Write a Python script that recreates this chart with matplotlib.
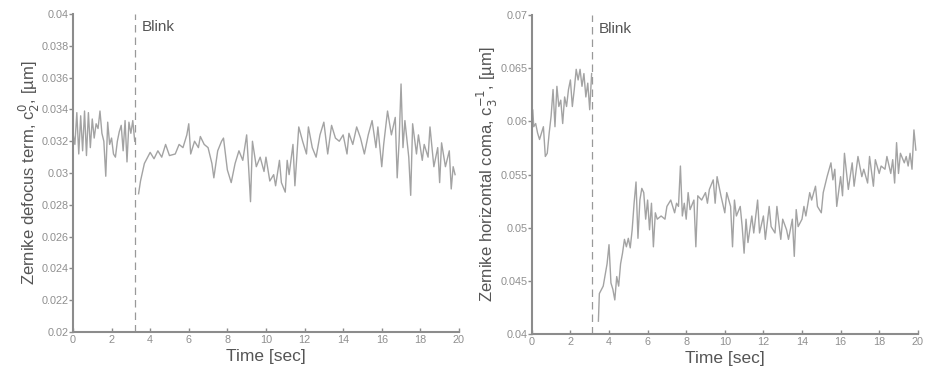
"""
Zernike defocus and horizontal coma over time, around a blink
"""

import matplotlib
matplotlib.use('Agg')
import matplotlib.pyplot as plt

plt.rcParams['font.family'] = ['Liberation Sans', 'DejaVu Sans']

# defocus term, before and after blink
t_def_pre = [0.0, 0.1, 0.2, 0.3, 0.4, 0.5, 0.6, 0.7, 0.8, 0.9, 1.0, 1.1,
             1.2, 1.3, 1.4, 1.5, 1.6, 1.7, 1.8, 1.9, 2.0, 2.1, 2.2, 2.3,
             2.4, 2.5, 2.6, 2.7, 2.8, 2.9, 3.0, 3.1, 3.2]
c_def_pre = [0.0325, 0.0318, 0.0338, 0.0312, 0.0336, 0.0314, 0.0339, 0.0311,
             0.0338, 0.0316, 0.0334, 0.0322, 0.0331, 0.0328, 0.0339, 0.0325,
             0.0320, 0.0298, 0.0332, 0.0318, 0.0322, 0.0312, 0.0310, 0.0320,
             0.0326, 0.0330, 0.0314, 0.0333, 0.0307, 0.0332, 0.0325, 0.0333,
             0.0320]
t_def_post = [3.4, 3.5, 3.7, 4.0, 4.2, 4.4, 4.6, 4.8, 5.0, 5.3, 5.5, 5.7,
              5.9, 6.0, 6.1, 6.3, 6.5, 6.6, 6.8, 7.0, 7.2, 7.3, 7.5, 7.7,
              7.8, 8.0, 8.2, 8.4, 8.6, 8.8, 9.0, 9.1, 9.2, 9.3, 9.5, 9.7,
              9.9, 10.0, 10.2, 10.4, 10.5, 10.7, 10.8, 11.0, 11.1, 11.2,
              11.4, 11.5, 11.7, 11.9, 12.1, 12.2, 12.4, 12.6, 12.8, 13.0,
              13.2, 13.4, 13.6, 13.8, 14.0, 14.2, 14.3, 14.5, 14.7, 14.9,
              15.1, 15.3, 15.5, 15.7, 15.8, 16.0, 16.1, 16.3, 16.5, 16.7,
              16.8, 16.9, 17.0, 17.1, 17.2, 17.4, 17.5, 17.6, 17.8, 17.9,
              18.1, 18.2, 18.4, 18.5, 18.7, 18.9, 19.0, 19.1, 19.3, 19.5,
              19.6, 19.7, 19.8]
c_def_post = [0.0287, 0.0295, 0.0306, 0.0313, 0.0309, 0.0314, 0.0310, 0.0318,
              0.0311, 0.0312, 0.0318, 0.0316, 0.0324, 0.0331, 0.0312, 0.0320,
              0.0316, 0.0323, 0.0318, 0.0316, 0.0306, 0.0297, 0.0314, 0.0320,
              0.0322, 0.0302, 0.0294, 0.0306, 0.0314, 0.0308, 0.0324, 0.0304,
              0.0282, 0.0320, 0.0304, 0.0310, 0.0301, 0.0310, 0.0295, 0.0299,
              0.0292, 0.0308, 0.0294, 0.0288, 0.0308, 0.0299, 0.0318, 0.0292,
              0.0329, 0.0320, 0.0312, 0.0329, 0.0316, 0.0310, 0.0324, 0.0332,
              0.0312, 0.0330, 0.0322, 0.0320, 0.0324, 0.0312, 0.0325, 0.0318,
              0.0329, 0.0322, 0.0312, 0.0324, 0.0333, 0.0316, 0.0329, 0.0304,
              0.0318, 0.0339, 0.0324, 0.0335, 0.0297, 0.0320, 0.0356, 0.0316,
              0.0333, 0.0310, 0.0286, 0.0331, 0.0312, 0.0324, 0.0308, 0.0318,
              0.0310, 0.0329, 0.0304, 0.0316, 0.0294, 0.0319, 0.0304, 0.0314,
              0.0290, 0.0304, 0.0299]

# horizontal coma, before and after blink
t_coma_pre = [0.0, 0.05, 0.1, 0.2, 0.3, 0.4, 0.5, 0.6, 0.7, 0.8, 0.9, 1.0,
              1.1, 1.2, 1.3, 1.4, 1.5, 1.6, 1.7, 1.8, 1.9, 2.0, 2.1, 2.2,
              2.3, 2.4, 2.5, 2.6, 2.7, 2.8, 2.9, 3.0, 3.1]
c_coma_pre = [0.0601, 0.0611, 0.0595, 0.0598, 0.0589, 0.0583, 0.0589, 0.0595,
              0.0567, 0.0570, 0.0589, 0.0605, 0.0630, 0.0595, 0.0633, 0.0614,
              0.0620, 0.0598, 0.0623, 0.0614, 0.0630, 0.0639, 0.0614, 0.0630,
              0.0649, 0.0639, 0.0649, 0.0633, 0.0645, 0.0623, 0.0636, 0.0611,
              0.0645]
t_coma_post = [3.45, 3.5, 3.7, 3.9, 4.0, 4.1, 4.2, 4.3, 4.4, 4.5, 4.6, 4.7,
               4.8, 4.9, 5.0, 5.1, 5.2, 5.3, 5.4, 5.5, 5.6, 5.7, 5.8, 5.9,
               6.0, 6.1, 6.2, 6.3, 6.4, 6.5, 6.7, 6.9, 7.0, 7.2, 7.4, 7.5,
               7.6, 7.7, 7.8, 7.9, 8.0, 8.1, 8.2, 8.4, 8.5, 8.6, 8.8, 9.0,
               9.1, 9.2, 9.4, 9.5, 9.6, 9.8, 10.0, 10.1, 10.3, 10.4, 10.5,
               10.6, 10.8, 10.9, 11.0, 11.1, 11.2, 11.4, 11.5, 11.7, 11.8,
               12.0, 12.1, 12.3, 12.4, 12.6, 12.7, 12.9, 13.0, 13.2, 13.3,
               13.5, 13.6, 13.7, 13.8, 14.0, 14.1, 14.2, 14.4, 14.5, 14.7,
               14.8, 15.0, 15.1, 15.3, 15.5, 15.6, 15.7, 15.8, 16.0, 16.1,
               16.2, 16.4, 16.6, 16.7, 16.9, 17.1, 17.2, 17.4, 17.5, 17.7,
               17.8, 18.0, 18.1, 18.3, 18.4, 18.6, 18.7, 18.8, 18.9, 19.0,
               19.1, 19.3, 19.4, 19.5, 19.6, 19.7, 19.8, 19.9]
c_coma_post = [0.0412, 0.0438, 0.0445, 0.0466, 0.0484, 0.0448, 0.0442, 0.0432,
               0.0454, 0.0445, 0.0466, 0.0476, 0.0489, 0.0482, 0.0490, 0.0481,
               0.0498, 0.0523, 0.0543, 0.0490, 0.0526, 0.0537, 0.0533, 0.0508,
               0.0526, 0.0498, 0.0523, 0.0482, 0.0514, 0.0508, 0.0511, 0.0508,
               0.0520, 0.0526, 0.0514, 0.0523, 0.0520, 0.0558, 0.0511, 0.0523,
               0.0508, 0.0533, 0.0517, 0.0526, 0.0482, 0.0530, 0.0526, 0.0533,
               0.0523, 0.0536, 0.0545, 0.0523, 0.0548, 0.0530, 0.0514, 0.0533,
               0.0520, 0.0482, 0.0526, 0.0511, 0.0520, 0.0501, 0.0476, 0.0508,
               0.0486, 0.0511, 0.0495, 0.0526, 0.0495, 0.0511, 0.0489, 0.0520,
               0.0501, 0.0495, 0.0520, 0.0489, 0.0508, 0.0498, 0.0489, 0.0508,
               0.0473, 0.0517, 0.0501, 0.0508, 0.0520, 0.0511, 0.0533, 0.0526,
               0.0539, 0.0520, 0.0514, 0.0533, 0.0548, 0.0561, 0.0545, 0.0555,
               0.0520, 0.0548, 0.0530, 0.0570, 0.0536, 0.0561, 0.0539, 0.0567,
               0.0548, 0.0555, 0.0542, 0.0567, 0.0539, 0.0564, 0.0551, 0.0558,
               0.0555, 0.0567, 0.0551, 0.0564, 0.0542, 0.0580, 0.0551, 0.0570,
               0.0561, 0.0567, 0.0558, 0.0570, 0.0555, 0.0592, 0.0573]

blink_def = 3.2
blink_coma = 3.1

line_col = '#a3a3a3'
axis_col = '#8c8c8c'
text_col = '#555555'


def style_axes(ax, ylim, yticks, yticklabels, ylabel):
    ax.set_xlim(0, 20)
    ax.set_ylim(*ylim)
    ax.set_xticks(range(0, 21, 2))
    ax.set_yticks(yticks)
    ax.set_yticklabels(yticklabels)
    for side in ['top', 'right']:
        ax.spines[side].set_visible(False)
    for side in ['left', 'bottom']:
        ax.spines[side].set_color(axis_col)
        ax.spines[side].set_linewidth(1.5)
    ax.tick_params(axis='y', direction='out', length=3, width=1,
                   color=axis_col, labelcolor='#8f8f8f', labelsize=7.8, pad=0)
    ax.tick_params(axis='x', direction='in', length=3, width=1,
                   color=axis_col, labelcolor='#8f8f8f', labelsize=7.8, pad=2)
    ax.set_xlabel('Time [sec]', fontsize=12.5, color=text_col, labelpad=3)
    ax.set_ylabel(ylabel, fontsize=12, color=text_col, labelpad=0)


fig = plt.figure(figsize=(9.33, 3.69), dpi=100)
ax1 = fig.add_axes([0.0782, 0.100, 0.4137, 0.862])
ax2 = fig.add_axes([0.570, 0.095, 0.4137, 0.864])

ax1.plot(t_def_pre, c_def_pre, color=line_col, lw=1.0)
ax1.plot(t_def_post, c_def_post, color=line_col, lw=1.0)
ax1.axvline(blink_def, color='#999999', lw=0.9, ls=(0, (6, 4)))
ax1.text(blink_def + 0.35, 0.0396, 'Blink', fontsize=11, color=text_col,
         va='top')
style_axes(ax1, (0.02, 0.04),
           [0.02, 0.022, 0.024, 0.026, 0.028, 0.03, 0.032, 0.034, 0.036,
            0.038, 0.04],
           ['0.02', '0.022', '0.024', '0.026', '0.028', '0.03', '0.032',
            '0.034', '0.036', '0.038', '0.04'],
           r'Zernike defocus term, c$_2^0$, [µm]')

ax2.plot(t_coma_pre, c_coma_pre, color=line_col, lw=1.0)
ax2.plot(t_coma_post, c_coma_post, color=line_col, lw=1.0)
ax2.axvline(blink_coma, color='#999999', lw=0.9, ls=(0, (6, 4)))
ax2.text(blink_coma + 0.35, 0.0694, 'Blink', fontsize=11, color=text_col,
         va='top')
style_axes(ax2, (0.04, 0.07),
           [0.04, 0.045, 0.05, 0.055, 0.06, 0.065, 0.07],
           ['0.04', '0.045', '0.05', '0.055', '0.06', '0.065', '0.07'],
           r'Zernike horizontal coma, c$_3^{-1}$, [µm]')

fig.savefig('out.png', dpi=100)
